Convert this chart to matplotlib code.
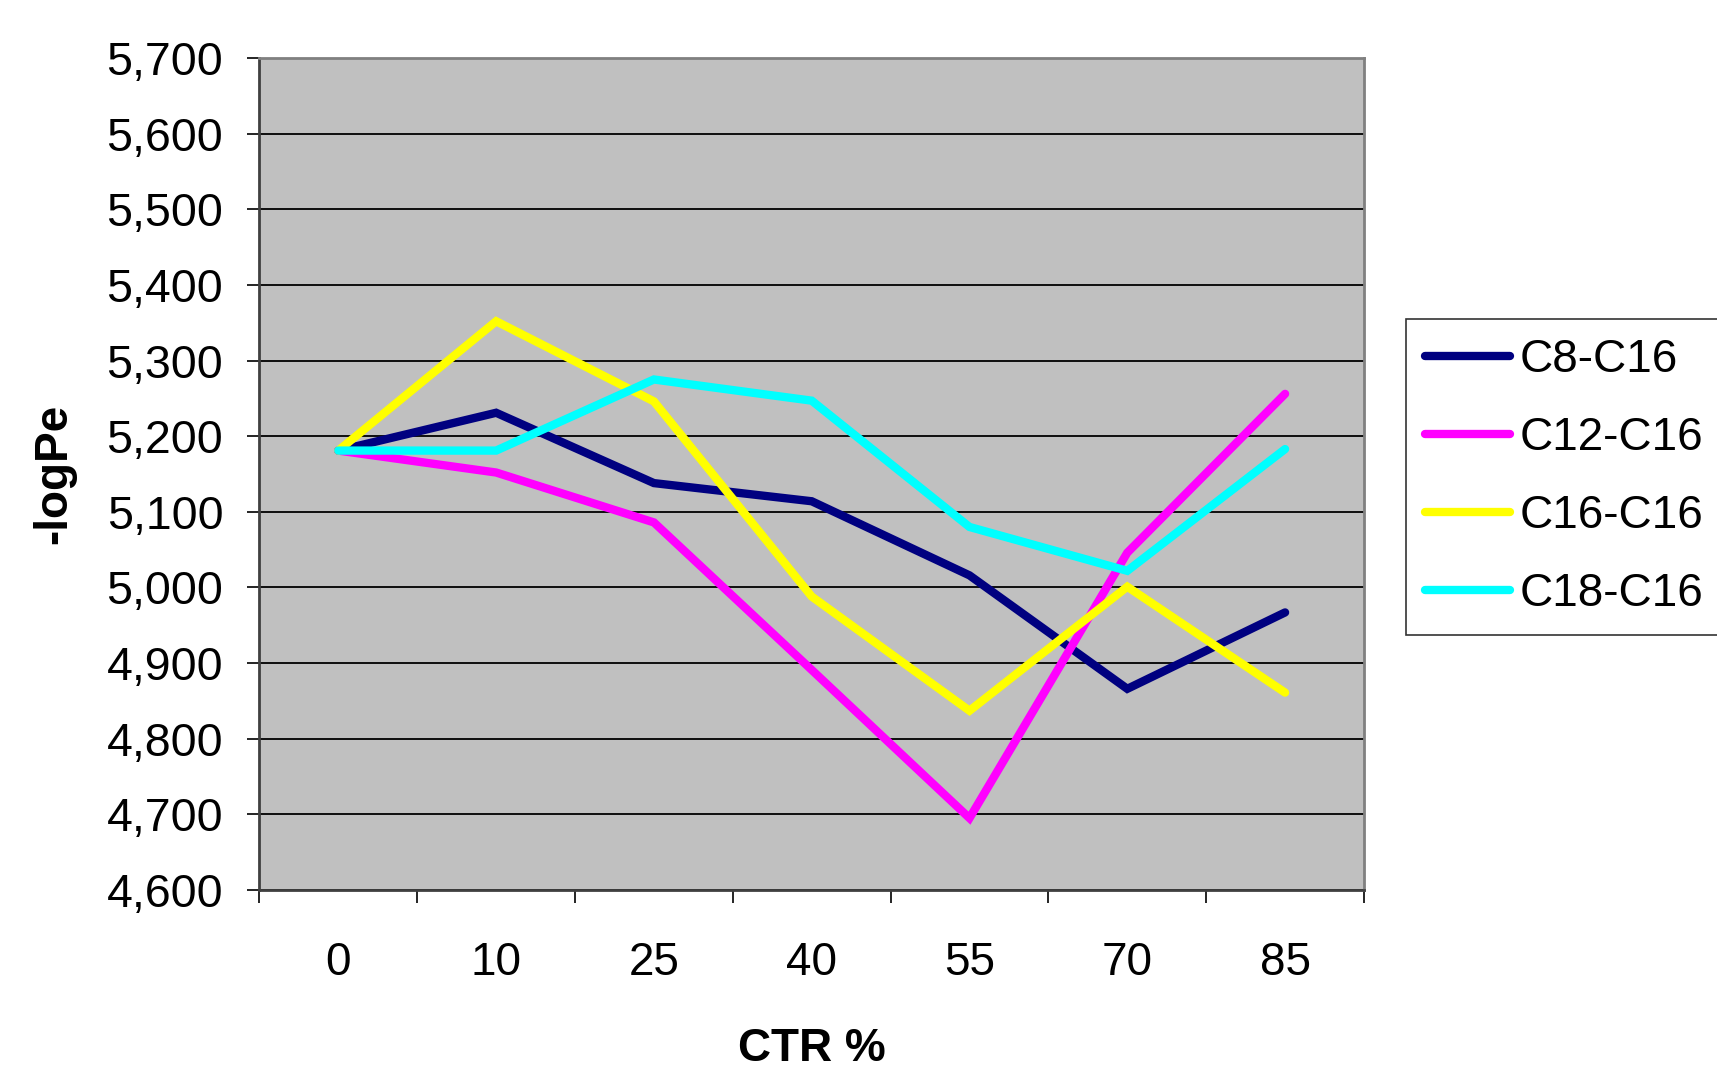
import matplotlib
matplotlib.use("Agg")
import matplotlib.pyplot as plt
from matplotlib.ticker import FuncFormatter, MultipleLocator, FixedLocator

plt.rcParams['font.family'] = ['Liberation Sans', 'DejaVu Sans']

# CTR content (%) and -logPe for each lipid pair
ctr = ["0", "10", "25", "40", "55", "70", "85"]
c8_c16 = [5.181, 5.231, 5.138, 5.114, 5.016, 4.866, 4.967]
c12_c16 = [5.181, 5.152, 5.086, 4.891, 4.695, 5.046, 5.256]
c16_c16 = [5.181, 5.352, 5.246, 4.988, 4.837, 5.001, 4.861]
c18_c16 = [5.181, 5.181, 5.275, 5.247, 5.080, 5.022, 5.183]

series = [
    ("C8-C16", c8_c16, "#000080"),
    ("C12-C16", c12_c16, "#FF00FF"),
    ("C16-C16", c16_c16, "#FFFF00"),
    ("C18-C16", c18_c16, "#00FFFF"),
]

fig = plt.figure(figsize=(17.17, 10.71), dpi=100)
ax = fig.add_axes([0.1511, 0.169, 0.6433, 0.7768])
ax.set_facecolor("#C0C0C0")

x = list(range(len(ctr)))
for name, vals, col in series:
    ax.plot(x, vals, color=col, lw=6, label=name, solid_capstyle="round", solid_joinstyle="miter")

ax.set_xlim(-0.5, len(ctr) - 0.5)
ax.set_ylim(4.6, 5.7)

# y axis: comma decimals, gridline every 0.1
ax.yaxis.set_major_locator(MultipleLocator(0.1))
ax.yaxis.set_major_formatter(FuncFormatter(lambda v, p: f"{v:.3f}".replace(".", ",")))
ax.grid(axis="y", color="black", lw=1.3)
ax.set_axisbelow(True)

# x axis: labels at category centres, tick marks between categories
ax.set_xticks(x)
ax.set_xticklabels(ctr)
ax.xaxis.set_minor_locator(FixedLocator([i - 0.5 for i in range(len(ctr) + 1)]))
ax.tick_params(axis="x", which="major", length=0, pad=37, labelsize=33)
ax.tick_params(axis="x", which="minor", length=9, width=1.2, direction="out")
ax.tick_params(axis="y", length=9, width=1.2, pad=17, labelsize=33.5)

for side in ["top", "right"]:
    ax.spines[side].set_color("#808080")
    ax.spines[side].set_linewidth(2)
for side in ["left", "bottom"]:
    ax.spines[side].set_color("#404040")
    ax.spines[side].set_linewidth(2)

ax.set_xlabel("CTR %", fontsize=33, fontweight="bold")
ax.set_ylabel("-logPe", fontsize=33, fontweight="bold")
ax.xaxis.set_label_coords(0.5, -0.165)
ax.yaxis.set_label_coords(-0.166, 0.5)

leg = ax.legend(loc="upper left", bbox_to_anchor=(0.819, 0.702), bbox_transform=fig.transFigure,
                fontsize=33, frameon=True, fancybox=False, edgecolor="black",
                handlelength=1.85, handletextpad=0.2, labelspacing=0.74,
                borderpad=0.42, borderaxespad=0)
leg.get_frame().set_linewidth(1.2)

fig.savefig("out.png", dpi=100)
